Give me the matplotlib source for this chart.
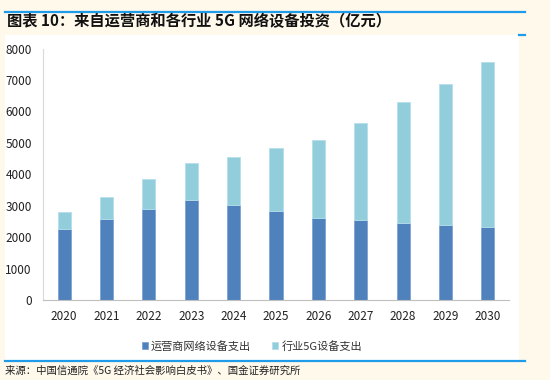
import matplotlib
matplotlib.use("Agg")
import matplotlib.pyplot as plt
from matplotlib.patches import Rectangle
from matplotlib.lines import Line2D

years = ["2020", "2021", "2022", "2023", "2024", "2025", "2026", "2027", "2028", "2029", "2030"]
operator = [2250, 2580, 2900, 3180, 3010, 2830, 2620, 2540, 2460, 2390, 2320]
total = [2790, 3280, 3840, 4360, 4540, 4820, 5100, 5630, 6300, 6870, 7580]
industry = [t - o for t, o in zip(total, operator)]
yticks = [0, 1000, 2000, 3000, 4000, 5000, 6000, 7000, 8000]

title = "图表 10：来自运营商和各行业 5G 网络设备投资（亿元）"
source = "来源：中国信通院《5G 经济社会影响白皮书》、国金证券研究所"
labels = ["运营商网络设备支出", "行业5G设备支出"]

plt.rcParams['font.family'] = ['Noto Sans CJK SC', 'DejaVu Sans']

W, H = 550, 380
fig = plt.figure(figsize=(W / 100, H / 100), dpi=100)
fig.patch.set_facecolor("#FFF9EC")

def fx(x):
    return x / W

def fy(y):
    return 1 - y / H

# white panel
fig.patches.append(Rectangle((fx(5), fy(360)), fx(519 - 5), (360 - 35) / H,
                             transform=fig.transFigure, facecolor="white", edgecolor="none", zorder=-5))
# blue rules
fig.add_artist(Line2D([fx(5), fx(525)], [fy(12), fy(12)], color="#1E9BE9", lw=1.6, transform=fig.transFigure))
fig.add_artist(Line2D([fx(519), fx(525)], [fy(35), fy(35)], color="#1E9BE9", lw=1.6, transform=fig.transFigure))
fig.add_artist(Line2D([fx(5), fx(525)], [fy(361), fy(361)], color="#1E9BE9", lw=1.6, transform=fig.transFigure))

fig.text(fx(7), fy(21), title, fontsize=11, fontweight="bold", style="italic",
         ha="left", va="center", color="#111111")
fig.text(fx(5), fy(370.5), source, fontsize=7.5, ha="left", va="center", color="#222222")

ax = fig.add_axes([fx(43), fy(300), fx(509 - 43), (300 - 48.5) / H])
ax.set_zorder(1)
ax.set_facecolor("white")
x = list(range(len(years)))
dark = "#4F81BD"
light = "#92CDDC"
ax.bar(x, operator, width=0.31, color=dark, edgecolor="#7FA3D3", linewidth=0.6, label=labels[0], zorder=2)
ax.bar(x, industry, width=0.31, bottom=operator, color=light, edgecolor="#B5DEEA", linewidth=0.6, label=labels[1], zorder=2)

ax.set_xlim(-0.5, len(years) - 0.5)
ax.set_ylim(0, 8000)
ax.set_yticks(yticks)
ax.set_yticklabels([str(v) for v in yticks], fontsize=8.5, color="#222222")
ax.set_xticks(x)
ax.set_xticklabels(years, fontsize=8.5, color="#222222")
ax.tick_params(axis="both", length=0)
ax.tick_params(axis="x", pad=7)
ax.tick_params(axis="y", pad=8)
for s in ["top", "right"]:
    ax.spines[s].set_visible(False)
ax.spines["left"].set_color("#D9D9D9")
ax.spines["bottom"].set_color("#BFBFBF")
ax.spines["left"].set_linewidth(0.8)
ax.spines["bottom"].set_linewidth(0.8)

leg = fig.legend(loc="center", bbox_to_anchor=(fx(252), fy(346)), ncol=2, frameon=False,
                 fontsize=8, handlelength=0.55, handleheight=0.55, handletextpad=0.3, columnspacing=1.9)
leg.set_zorder(2)
for t in leg.get_texts():
    t.set_color("#333333")

fig.savefig("out.png", dpi=100, facecolor=fig.get_facecolor())
